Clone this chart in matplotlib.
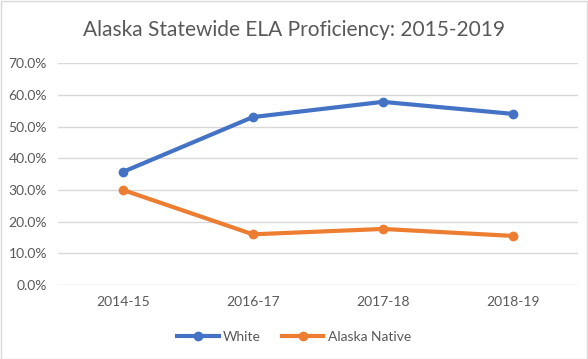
import matplotlib.pyplot as plt
from matplotlib.patches import Rectangle

years = ['2014-15', '2016-17', '2017-18', '2018-19']
white = [35.7, 53.0, 57.8, 54.0]
native = [30.0, 16.0, 17.7, 15.5]

plt.rcParams['font.family'] = ['Lato', 'DejaVu Sans']
gray = '#595959'

fig = plt.figure(figsize=(5.88, 3.59), dpi=100)
ax = fig.add_axes([0.0986, 0.206, 0.884, 0.618])
fig.patches.append(Rectangle((0.001, 0.001), 0.997, 0.996, transform=fig.transFigure,
                             fill=False, edgecolor='#d9d9d9', linewidth=1))

x = range(len(years))
ax.plot(x, white, color='#4472c4', linewidth=3, marker='o', markersize=6, label='White')
ax.plot(x, native, color='#ed7d31', linewidth=3, marker='o', markersize=6, label='Alaska Native')

ax.set_xlim(-0.5, 3.5)
ax.set_ylim(0, 70)
ax.set_yticks(range(0, 71, 10))
ax.set_yticklabels(['%.1f%%' % v for v in range(0, 71, 10)])
ax.set_xticks(list(x))
ax.set_xticklabels(years)
ax.tick_params(colors=gray, labelsize=10, length=0, pad=8)
ax.grid(axis='y', color='#d9d9d9', linewidth=1)
ax.set_axisbelow(True)
for s in ax.spines.values():
    s.set_visible(False)

fig.suptitle('Alaska Statewide ELA Proficiency: 2015-2019', x=0.5, y=0.945,
             fontsize=15, color=gray)
fig.legend(loc='center', bbox_to_anchor=(0.5, 0.062), ncol=2, frameon=False,
           fontsize=10, labelcolor=gray, handlelength=3, handletextpad=0.3,
           columnspacing=1.5)

fig.savefig('out.png', dpi=100)
